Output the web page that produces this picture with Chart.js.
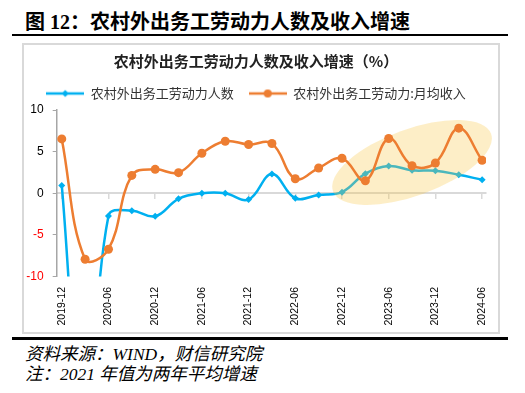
<!DOCTYPE html>
<html>
<head>
<meta charset="utf-8">
<script src="https://cdn.jsdelivr.net/npm/chart.js@4"></script>
<style>
  body { margin: 0; width: 525px; height: 393px; background: #fff; position: relative; overflow: hidden; }
  #head { position: absolute; left: 25px; top: 6px; font: bold 20px "Liberation Serif", "Noto Sans CJK SC", serif; color: #000; white-space: nowrap; }
  .rule { position: absolute; left: 12px; width: 496px; height: 2px; background: #000; }
  #box { position: absolute; left: 22px; top: 43px; width: 478px; height: 291px; border: 2px solid #d9d9d9; box-sizing: border-box; }
  .note { position: absolute; left: 25px; font: italic 17.5px "Liberation Serif", "Noto Sans CJK SC", serif; color: #000; white-space: nowrap; }
</style>
</head>
<body>
<div id="head">图 12：农村外出务工劳动力人数及收入增速</div>
<div class="rule" style="top:34px"></div>
<div id="box"><canvas id="myChart" width="474" height="287"></canvas></div>
<div class="rule" style="top:337px;height:2.5px"></div>
<div class="note" style="top:340px">资料来源：WIND，财信研究院</div>
<div class="note" style="top:360px">注：2021 年值为两年平均增速</div>
<script>
// quarterly observations
var quarters = [
    '2019-12', '2020-03', '2020-06', '2020-09', '2020-12',
    '2021-03', '2021-06', '2021-09', '2021-12',
    '2022-03', '2022-06', '2022-09', '2022-12',
    '2023-03', '2023-06', '2023-09', '2023-12',
    '2024-03', '2024-06'
];
var workers = [0.94, -30.6, -2.73, -2.09, -2.77, -0.67, 0.0, 0.0, -0.76, 2.3, -0.6, -0.2, 0.13, 2.35, 3.27, 2.75, 2.71, 2.22, 1.62];
var income = [6.53, -7.93, -6.72, 2.14, 2.87, 2.47, 4.8, 6.25, 5.85, 5.97, 1.74, 3.03, 4.2, 1.5, 6.58, 3.31, 3.64, 7.82, 3.96];
var tickLabels = ['2019-12', '2020-06', '2020-12', '2021-06', '2021-12', '2022-06', '2022-12', '2023-06', '2023-12', '2024-06'];
var seriesNames = ['农村外出务工劳动力人数', '农村外出务工劳动力:月均收入'];

var blue = '#00B0F0';
var orange = '#ED7D31';

// months since 2019-12
function monthIndex(s) {
    var p = s.split('-');
    return (parseInt(p[0], 10) - 2019) * 12 + parseInt(p[1], 10) - 12;
}
function points(values) {
    return quarters.map(function (q, i) { return { x: monthIndex(q), y: values[i] }; });
}
var tickMonths = tickLabels.map(monthIndex);
function setTicks(scale) {
    scale.ticks = tickMonths.map(function (v) { return { value: v }; });
}
var xMin = -0.65, xMax = 54.5;

// small line+marker swatches for the legend
function swatch(color, style) {
    var c = document.createElement('canvas');
    c.width = 38; c.height = 12;
    var g = c.getContext('2d');
    g.strokeStyle = color; g.lineWidth = 2.5;
    g.beginPath(); g.moveTo(0, 6); g.lineTo(38, 6); g.stroke();
    g.fillStyle = color;
    g.beginPath();
    if (style === 'diamond') {
        g.moveTo(19, 2.5); g.lineTo(22.5, 6); g.lineTo(19, 9.5); g.lineTo(15.5, 6);
    } else {
        g.arc(19, 6, 4, 0, Math.PI * 2);
    }
    g.fill();
    return c;
}

// shaded highlight over the recent period (in data units)
var highlight = { month: 45, value: 3.7, rx: 10.8, ry: 4.0, angle: -20 };
var highlightPlugin = {
    id: 'highlight',
    beforeDatasetDraw: function (chart, args) {
        if (args.index !== 1) return;
        var xs = chart.scales.x, ys = chart.scales.y, ctx = chart.ctx;
        var cx = xs.getPixelForValue(highlight.month);
        var cy = ys.getPixelForValue(highlight.value);
        var rx = Math.abs(xs.getPixelForValue(highlight.month + highlight.rx) - cx);
        var ry = Math.abs(ys.getPixelForValue(highlight.value + highlight.ry) - cy);
        ctx.save();
        ctx.fillStyle = 'rgba(248, 200, 70, 0.3)';
        ctx.beginPath();
        ctx.ellipse(cx, cy, rx, ry, highlight.angle * Math.PI / 180, 0, Math.PI * 2);
        ctx.fill();
        ctx.restore();
    }
};

Chart.defaults.font.family = "'Liberation Sans', 'Noto Sans CJK SC', sans-serif";
Chart.defaults.animation = false;

var ctx = document.getElementById('myChart').getContext('2d');
var chart = new Chart(ctx, {
    type: 'line',
    data: {
        datasets: [{
            label: seriesNames[0],
            data: points(workers),
            borderColor: blue,
            backgroundColor: blue,
            borderWidth: 2.5,
            pointStyle: 'rectRot',
            pointRadius: 3.5,
            pointBorderWidth: 0,
            tension: 0.4,
            order: 2
        }, {
            label: seriesNames[1],
            data: points(income),
            borderColor: orange,
            backgroundColor: orange,
            borderWidth: 2.5,
            pointStyle: 'circle',
            pointRadius: 4.5,
            pointBorderWidth: 0,
            tension: 0.4,
            order: 1
        }]
    },
    options: {
        responsive: false,
        layout: { padding: { left: 2, right: 12, top: 0, bottom: 0 } },
        plugins: {
            title: {
                display: true,
                text: '农村外出务工劳动力人数及收入增速（%）',
                color: '#222',
                font: { family: "'Noto Sans CJK SC', sans-serif", size: 15, weight: 'bold' },
                padding: { top: 7.5, bottom: 1.5 }
            },
            legend: {
                labels: {
                    usePointStyle: true,
                    pointStyleWidth: 38,
                    padding: 15,
                    color: '#333',
                    font: { family: "'Noto Sans CJK SC', sans-serif", size: 13 },
                    generateLabels: function (chart) {
                        return chart.data.datasets.map(function (ds, i) {
                            return {
                                text: ds.label,
                                pointStyle: swatch(ds.borderColor, i === 0 ? 'diamond' : 'circle'),
                                fontColor: '#333',
                                lineWidth: 0,
                                datasetIndex: i
                            };
                        });
                    }
                }
            },
            tooltip: { enabled: false }
        },
        scales: {
            x: {
                type: 'linear',
                position: 'bottom',
                min: xMin,
                max: xMax,
                afterBuildTicks: setTicks,
                afterFit: function (s) { s.height = 55.5; s.paddingLeft = 0; s.paddingRight = 0; },
                grid: { display: false, drawTicks: false },
                border: { display: false },
                ticks: {
                    autoSkip: false,
                    minRotation: 90,
                    maxRotation: 90,
                    padding: 10.5,
                    color: '#000',
                    font: { size: 10.5 },
                    callback: function (v) { return tickLabels[tickMonths.indexOf(v)]; }
                }
            },
            x2: {
                type: 'linear',
                axis: 'x',
                position: { y: 0 },
                min: xMin,
                max: xMax,
                afterBuildTicks: setTicks,
                grid: { drawOnChartArea: false, drawTicks: true, tickLength: 5, color: '#d9d9d9', lineWidth: 1.5 },
                border: { display: true, color: '#d9d9d9', width: 2 },
                ticks: { display: false }
            },
            y: {
                min: -10,
                max: 10,
                afterFit: function (s) { s.width = 30.7; },
                ticks: {
                    stepSize: 5,
                    padding: 9,
                    font: { size: 12 },
                    color: function (c) { return c.tick.value < 0 ? '#FF0000' : '#000'; }
                },
                grid: { drawOnChartArea: false, drawTicks: true, tickLength: 4, color: '#a6a6a6' },
                border: { display: true, color: '#a6a6a6', width: 1.5 }
            }
        }
    },
    plugins: [highlightPlugin]
});
</script>
</body>
</html>
